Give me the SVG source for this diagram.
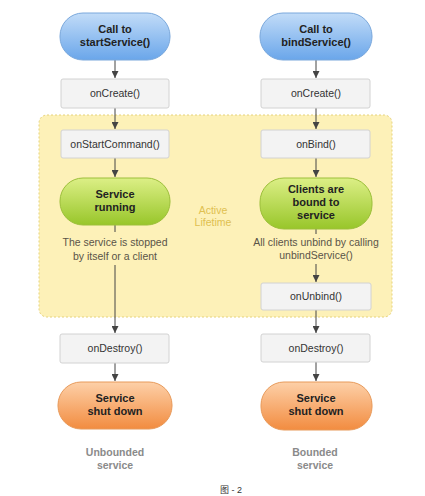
<svg xmlns="http://www.w3.org/2000/svg" width="425" height="496" viewBox="0 0 425 496">
<defs>
<linearGradient id="gBlue" x1="0" y1="0" x2="0" y2="1"><stop offset="0" stop-color="#c2dcf8"/><stop offset="1" stop-color="#6aa6ea"/></linearGradient>
<linearGradient id="gGreen" x1="0" y1="0" x2="0" y2="1"><stop offset="0" stop-color="#dcef86"/><stop offset="1" stop-color="#98c62a"/></linearGradient>
<linearGradient id="gOrange" x1="0" y1="0" x2="0" y2="1"><stop offset="0" stop-color="#fdd0a8"/><stop offset="1" stop-color="#f28c40"/></linearGradient>
<marker id="arr" viewBox="0 0 10 10" refX="10" refY="5" markerWidth="7" markerHeight="7" orient="auto"><path d="M0,0 L10,5 L0,10 z" fill="#444"/></marker>
<style>
.box{fill:#f3f3f3;stroke:#d2d2d2;stroke-width:1}
.t{font-family:"Liberation Sans",Arial,sans-serif;font-size:10.5px;fill:#333;text-anchor:middle}
.b{font-weight:bold;font-size:11px;fill:#222}
.g{fill:#5a5448}
.lab{font-weight:bold;fill:#8a8a8a}
.act{fill:#e0c050}
.ln{stroke:#444;stroke-width:1;fill:none}
.blue{fill:url(#gBlue);stroke:#7aa8dc}
.green{fill:url(#gGreen);stroke:#9cbf3a}
.orange{fill:url(#gOrange);stroke:#e89a5a}
</style>
</defs>
<rect width="425" height="496" fill="#ffffff"/>
<g id="active-area">
<rect x="39" y="115" width="353" height="202" rx="8" fill="#fdf1b8" stroke="#e6d27a" stroke-dasharray="2,2"/>
<text class="t act" x="213" y="214">Active</text>
<text class="t act" x="213" y="226">Lifetime</text>
</g>
<g id="connectors">
<line class="ln" x1="115" y1="60" x2="115" y2="78" marker-end="url(#arr)"/>
<line class="ln" x1="115" y1="108" x2="115" y2="129" marker-end="url(#arr)"/>
<line class="ln" x1="115" y1="158" x2="115" y2="177" marker-end="url(#arr)"/>
<line class="ln" x1="115" y1="225" x2="115" y2="232"/>
<line class="ln" x1="115" y1="265" x2="115" y2="333" marker-end="url(#arr)"/>
<line class="ln" x1="115" y1="363" x2="115" y2="381" marker-end="url(#arr)"/>
<line class="ln" x1="316" y1="60" x2="316" y2="78" marker-end="url(#arr)"/>
<line class="ln" x1="316" y1="108" x2="316" y2="129" marker-end="url(#arr)"/>
<line class="ln" x1="316" y1="158" x2="316" y2="177" marker-end="url(#arr)"/>
<line class="ln" x1="316" y1="229" x2="316" y2="234"/>
<line class="ln" x1="316" y1="264" x2="316" y2="282" marker-end="url(#arr)"/>
<line class="ln" x1="316" y1="310" x2="316" y2="333" marker-end="url(#arr)"/>
<line class="ln" x1="316" y1="362" x2="316" y2="381" marker-end="url(#arr)"/>
</g>
<g id="call-start"><rect class="blue" x="60" y="13" width="110" height="47" rx="23"/><text class="t b" x="115" y="33">Call to</text><text class="t b" x="115" y="46">startService()</text></g>
<g id="call-bind"><rect class="blue" x="260" y="13" width="112" height="47" rx="23"/><text class="t b" x="316" y="33">Call to</text><text class="t b" x="316" y="46">bindService()</text></g>
<g id="oncreate-l"><rect class="box" x="61" y="79" width="108" height="29" rx="2"/><text class="t" x="115" y="97">onCreate()</text></g>
<g id="oncreate-r"><rect class="box" x="261" y="79" width="109" height="29" rx="2"/><text class="t" x="316" y="97">onCreate()</text></g>
<g id="onstartcommand"><rect class="box" x="61" y="130" width="108" height="28" rx="2"/><text class="t" x="115" y="148">onStartCommand()</text></g>
<g id="onbind"><rect class="box" x="261" y="130" width="109" height="28" rx="2"/><text class="t" x="316" y="148">onBind()</text></g>
<g id="service-running"><rect class="green" x="60" y="178" width="110" height="47" rx="23"/><text class="t b" x="115" y="198">Service</text><text class="t b" x="115" y="211">running</text></g>
<g id="clients-bound"><rect class="green" x="260" y="178" width="112" height="51" rx="24"/><text class="t b" x="316" y="193">Clients are</text><text class="t b" x="316" y="206">bound to</text><text class="t b" x="316" y="219">service</text></g>
<g id="stopped-label"><text class="t g" x="115" y="246">The service is stopped</text><text class="t g" x="115" y="260">by itself or a client</text></g>
<g id="unbind-label"><text class="t g" x="316" y="246">All clients unbind by calling</text><text class="t g" x="316" y="259">unbindService()</text></g>
<g id="onunbind"><rect class="box" x="261" y="283" width="110" height="27" rx="2"/><text class="t" x="316" y="300">onUnbind()</text></g>
<g id="ondestroy-l"><rect class="box" x="60" y="334" width="109" height="29" rx="2"/><text class="t" x="115" y="352">onDestroy()</text></g>
<g id="ondestroy-r"><rect class="box" x="261" y="334" width="109" height="28" rx="2"/><text class="t" x="316" y="352">onDestroy()</text></g>
<g id="shutdown-l"><rect class="orange" x="58" y="382" width="114" height="47" rx="23"/><text class="t b" x="115" y="402">Service</text><text class="t b" x="115" y="415">shut down</text></g>
<g id="shutdown-r"><rect class="orange" x="261" y="382" width="111" height="48" rx="23"/><text class="t b" x="316" y="402">Service</text><text class="t b" x="316" y="415">shut down</text></g>
<g id="labels">
<text class="t lab" x="115" y="456">Unbounded</text><text class="t lab" x="115" y="469">service</text>
<text class="t lab" x="315" y="456">Bounded</text><text class="t lab" x="315" y="469">service</text>
<text class="t" x="231" y="493" style="font-size:9px;font-family:'Liberation Sans','Noto Sans CJK SC',sans-serif">图 - 2</text>
</g>
</svg>
